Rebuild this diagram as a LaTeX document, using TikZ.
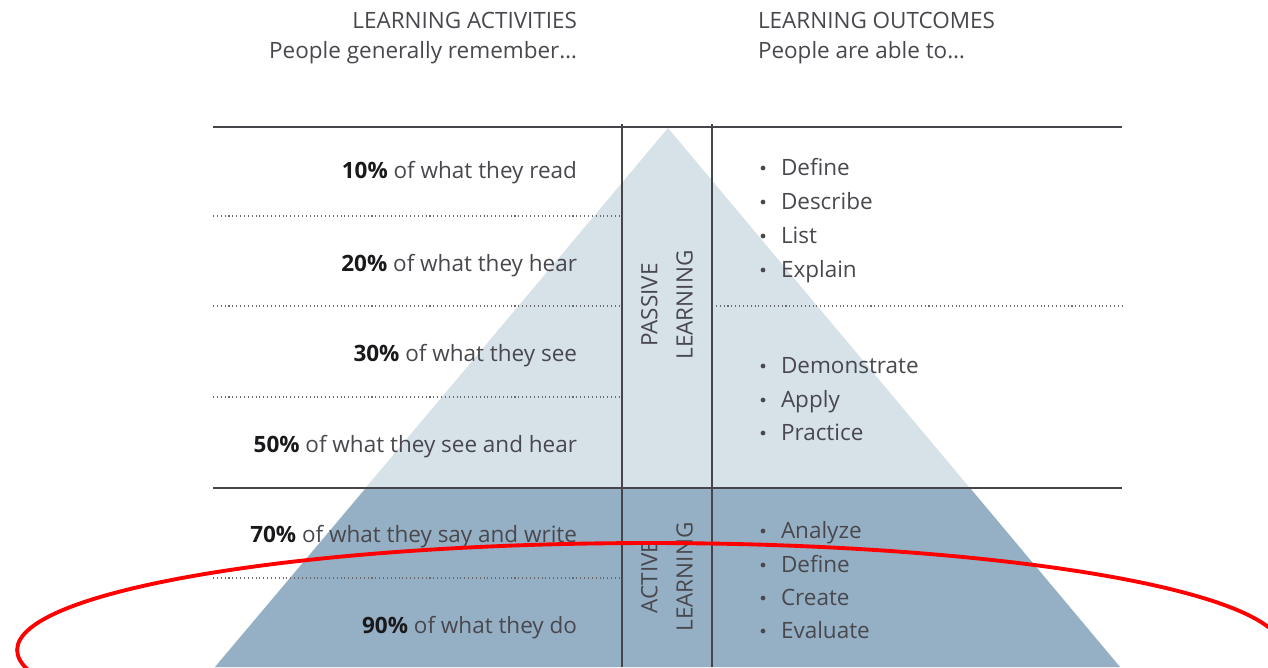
\documentclass[tikz,border=0pt]{standalone}
\usepackage{fontspec}
\setmainfont{Open Sans}
\definecolor{lightpyr}{RGB}{214,225,232}
\definecolor{darkpyr}{RGB}{149,176,196}
\definecolor{txtgrey}{RGB}{72,72,78}
\definecolor{boldtxt}{RGB}{25,25,28}
\definecolor{rulegrey}{RGB}{70,70,74}
\begin{document}
\begin{tikzpicture}[x=0.02cm,y=-0.02cm,
  every node/.style={inner sep=0pt, outer sep=0pt, text=txtgrey, font=\fontsize{12.8}{20}\selectfont},
  lefttxt/.style={anchor=base east},
  righttxt/.style={anchor=base west},
  bulletdot/.style={circle, fill=txtgrey, minimum size=0.095cm},
  rotlabel/.style={rotate=90, align=center},
  solidrule/.style={draw=rulegrey, line width=1.1pt},
  colrule/.style={draw=rulegrey, line width=0.8pt},
  dotrule/.style={draw=rulegrey!80, line width=0.6pt, dash pattern=on 0.6pt off 1.6pt},
  highlight/.style={draw=red, line width=2.2pt}]
\useasboundingbox (0,0) rectangle (1268,667);
% pyramid
\fill[lightpyr] (668,128) -- (1120,667) -- (215,667) -- cycle;
\fill[darkpyr] (366,488) -- (970,488) -- (1120,667) -- (215,667) -- cycle;
% rules
\draw[solidrule] (213,127) -- (1122,127);
\draw[solidrule] (213,488) -- (1122,488);
\draw[dotrule] (213,216) -- (622,216);
\draw[dotrule] (213,306) -- (622,306);
\draw[dotrule] (712,306) -- (1122,306);
\draw[dotrule] (213,397) -- (622,397);
\draw[dotrule] (213,578) -- (622,578);
\draw[colrule] (622,124) -- (622,667);
\draw[colrule] (712,124) -- (712,667);
% headers
\node[lefttxt] (hact) at (577,28) {LEARNING ACTIVITIES};
\node[lefttxt] (hrem) at (577,58) {People generally remember…};
\node[righttxt] (hout) at (758,28) {LEARNING OUTCOMES};
\node[righttxt] (hable) at (758,58) {People are able to…};
% left column
\node[lefttxt] (a10) at (577,178) {\textcolor{boldtxt}{\textbf{10\%}} of what they read};
\node[lefttxt] (a20) at (577,271) {\textcolor{boldtxt}{\textbf{20\%}} of what they hear};
\node[lefttxt] (a30) at (577,361) {\textcolor{boldtxt}{\textbf{30\%}} of what they see};
\node[lefttxt] (a50) at (577,452) {\textcolor{boldtxt}{\textbf{50\%}} of what they see and hear};
\node[lefttxt] (a70) at (577,542) {\textcolor{boldtxt}{\textbf{70\%}} of what they say and write};
\node[lefttxt] (a90) at (577,633) {\textcolor{boldtxt}{\textbf{90\%}} of what they do};
% rotated labels
\node[rotlabel] (passive) at (667,305) {PASSIVE\\LEARNING};
\node[rotlabel] (active) at (667,577) {ACTIVE\\LEARNING};
% outcomes
\foreach \name/\yy/\word in {o1/175/Define, o2/209/Describe, o3/243/List, o4/277/Explain,
  o5/373/Demonstrate, o6/407/Apply, o7/440/Practice,
  o8/538/Analyze, o9/572/Define, o10/605/Create, o11/638/Evaluate}{
  \node[bulletdot] (\name b) at (763,\yy-7) {};
  \node[righttxt] (\name) at (781,\yy) {\word};
}
% highlight ellipse
\draw[highlight] (650,650) ellipse [x radius=12.66cm, y radius=2.14cm];
\end{tikzpicture}
\end{document}
